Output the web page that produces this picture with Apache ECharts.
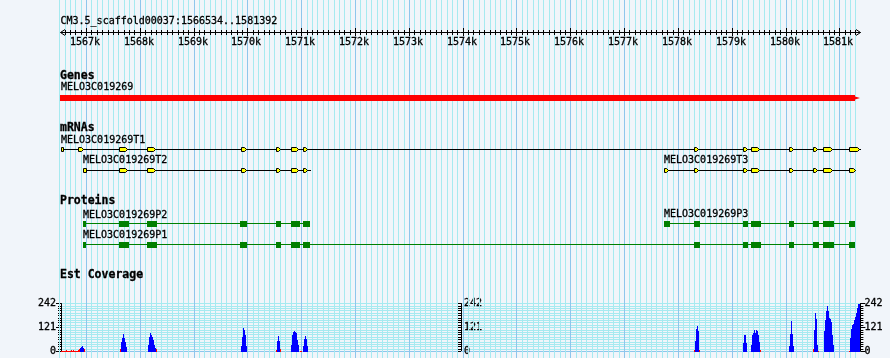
<!DOCTYPE html>
<html>
<head>
<meta charset="utf-8">
<script src="https://cdn.jsdelivr.net/npm/echarts@6/dist/echarts.min.js"></script>
<style>
html,body{margin:0;padding:0;background:#f1f5fa;}
#chart{width:890px;height:358px;}
</style>
</head>
<body>
<div id="chart"></div>
<script>
// ---------------- data ----------------
const VIEW_START = 1566534;
const VIEW_END = 1581392;
const REGION_TITLE = 'CM3.5_scaffold00037:1566534..1581392';
const RULER_POS = [1567000,1568000,1569000,1570000,1571000,1572000,1573000,1574000,1575000,1576000,1577000,1578000,1579000,1580000,1581000];
const RULER_LABELS = ['1567k','1568k','1569k','1570k','1571k','1572k','1573k','1574k','1575k','1576k','1577k','1578k','1579k','1580k','1581k'];
const TRACK_TITLES = ['Genes','mRNAs','Proteins','Est Coverage'];

const GENE_NAMES = ['MELO3C019269'];
const GENE_SPANS = [[1566534,1581392]];

const MRNA_NAMES = ['MELO3C019269T1','MELO3C019269T2','MELO3C019269T3'];
const MRNA_SPANS = [[1566534,1581392],[1566950,1571163],[1577748,1581286]];
const T1_EXONS = [[1566534,1566570],[1566857,1566950],[1567619,1567762],[1568139,1568282],[1569875,1569968],[1570537,1570605],[1570815,1570946],[1571033,1571113],[1578300,1578380],[1579210,1579279],[1579359,1579513],[1580071,1580134],[1580517,1580586],[1580697,1580859],[1581175,1581361]];
const T2_EXONS = [[1566950,1566994],[1567619,1567762],[1568139,1568282],[1569875,1569968],[1570537,1570605],[1570815,1570946],[1571033,1571113]];
const T3_EXONS = [[1577748,1577822],[1578300,1578380],[1579210,1579279],[1579359,1579513],[1580071,1580134],[1580517,1580586],[1580697,1580859],[1581175,1581286]];

const PROTEIN_NAMES = ['MELO3C019269P2','MELO3C019269P1','MELO3C019269P3'];
const PROTEIN_SPANS = [[1566944,1571163],[1566944,1581292],[1577742,1581292]];
const P2_CDS = [[1566944,1567000],[1567613,1567799],[1568134,1568320],[1569862,1569992],[1570531,1570624],[1570810,1570977],[1571033,1571163]];
const P1_CDS = [[1566944,1567000],[1567613,1567799],[1568134,1568320],[1569862,1569992],[1570531,1570624],[1570810,1570977],[1571033,1571163],[1578294,1578406],[1579210,1579309],[1579359,1579545],[1580065,1580164],[1580511,1580623],[1580697,1580902],[1581175,1581292]];
const P3_CDS = [[1577742,1577853],[1578294,1578406],[1579210,1579309],[1579359,1579545],[1580065,1580164],[1580511,1580623],[1580697,1580902],[1581175,1581292]];

const COV_MAX = 242;
const COV_TICK_STEP = 121;
const COV_BIN_BP = 18.585; // width of one coverage bin in bp; bins counted from VIEW_START
const EST_COV_BLUE = [[19,20],[20,25],[21,27],[22,20],
 [60,48],[61,68],[62,90],[63,68],[64,50],[65,23],
 [87,35],[88,72],[89,93],[90,85],[91,73],[92,60],[93,35],[94,18],
 [180,30],[181,72],[182,118],[183,108],[184,82],[185,30],
 [216,55],[217,78],[218,55],
 [230,35],[231,82],[232,100],[233,103],[234,97],[235,93],[236,57],[237,35],
 [242,30],[243,65],[244,80],[245,62],[246,30],
 [634,52],[635,115],[636,128],[637,102],
 [682,42],[683,83],[684,83],[685,42],
 [690,35],[691,85],[692,95],[693,107],[694,92],[695,107],[696,102],[697,85],[698,50],
 [728,30],[729,88],[730,153],[731,88],[732,30],
 [753,110],[754,195],[755,165],[756,32],
 [763,102],[764,160],[765,202],[766,227],[767,202],[768,168],[769,164],[770,148],[771,85],[772,35],
 [789,68],[790,115],[791,132],[792,138],[793,158],[794,172],[795,195],[796,219],[797,239],[798,242]];
const EST_COV_RED = [[0,5],[1,5],[2,5],[3,5],[4,5],[5,10],[6,5],[7,5],[8,5],[9,5],[10,10],[11,5],[12,10],[13,5],[14,5],[15,5],[16,5],[17,10],[18,15],[23,15],
 [59,15],[95,15],[215,10],[219,15],[239,5],[240,5],[633,10],[638,7],[699,10],[752,15],[757,5],[788,5]];

// ---------------- styling / layout ----------------
const FF = '"DejaVu Sans Mono", monospace';
const F_REG = '10px ' + FF;
const F_BOLD = 'bold 11.5px ' + FF;
const BG = '#f1f5fa';
const MINOR = '#a6eaf0';
const MAJOR = '#8ec6ec';
const GRID_LEFT = 61, GRID_RIGHT = 29.6;

const TITLE_Y = [76.4, 128, 201.2, 275.5];
const MRNA_ROW = [149, 170, 170];
const MRNA_LABEL_Y = [140, 160.8, 160.8];
const MRNA_EXONS = [T1_EXONS, T2_EXONS, T3_EXONS];
const PROT_ROW = [223, 244, 223];
const PROT_LABEL_Y = [215, 235.5, 214.5];
const PROT_CDS = [P2_CDS, P1_CDS, P3_CDS];

function txt(text, x, y, font, align) {
  align = align || 'left';
  return {type: 'text', silent: true, style: {text: text, x: x, y: y, font: font, fill: '#000',
    stroke: '#000', lineWidth: 0.3,
    align: align, verticalAlign: 'middle', textAlign: align, textVerticalAlign: 'middle'}};
}
function vline(x, y1, y2, color) {
  return {type: 'line', silent: true, shape: {x1: x, y1: y1, x2: x, y2: y2}, style: {stroke: color, lineWidth: 1}};
}
function hline(x1, x2, y, color) {
  return {type: 'line', silent: true, shape: {x1: x1, y1: y, x2: x2, y2: y}, style: {stroke: color, lineWidth: 1}};
}

// grid line positions every 100 bp across the view (axis decoration)
const GRID_POS = [];
for (let p = Math.ceil((VIEW_START - 50) / 100) * 100; p <= VIEW_END; p += 100) GRID_POS.push([p]);

const chart = echarts.init(document.getElementById('chart'), null, {renderer: 'canvas'});

function renderGrid(params, api) {
  const v = api.value(0);
  const x = Math.round(api.coord([v, 0])[0]) + 0.5;
  return vline(x, 0, 358, v % 1000 === 0 ? MAJOR : MINOR);
}

function renderRuler(params, api) {
  const X = v => api.coord([v, 0])[0];
  const xs = Math.round(X(VIEW_START)) - 0.5, xe = Math.round(X(VIEW_END)) + 0.5;
  const ch = [];
  ch.push(hline(xs, xe, 32.5, '#000'));
  ch.push({type: 'polyline', silent: true, shape: {points: [[xs + 4.5, 29.5], [xs, 32.5], [xs + 4.5, 35.5]]}, style: {stroke: '#000', fill: null, lineWidth: 1}});
  ch.push({type: 'polyline', silent: true, shape: {points: [[xe - 4.5, 29.5], [xe, 32.5], [xe - 4.5, 35.5]]}, style: {stroke: '#000', fill: null, lineWidth: 1}});
  for (let p = Math.ceil((VIEW_START + 1) / 100) * 100; p < VIEW_END; p += 100) {
    const x = Math.round(X(p)) + 0.5;
    if (p % 1000 === 0) ch.push(vline(x, 28, 36, '#000'));
    else ch.push(vline(x, 30, 35, '#000'));
  }
  RULER_POS.forEach((p, i) => ch.push(txt(RULER_LABELS[i], Math.round(X(p)) - 1, 42, F_REG, 'center')));
  ch.push(txt(REGION_TITLE, 60.5, 21, F_REG));
  TRACK_TITLES.forEach((t, i) => ch.push(txt(t, 60, TITLE_Y[i], F_BOLD)));
  return {type: 'group', children: ch};
}

function renderGene(params, api) {
  const xs = Math.round(api.coord([api.value(0), 0])[0]) - 1;
  const xe = Math.round(api.coord([api.value(1), 0])[0]);
  return {type: 'group', children: [
    {type: 'polygon', silent: true, shape: {points: [[xs, 95], [xe - 5, 95], [xe - 5, 96.5], [xe, 98], [xe - 5, 99.5], [xe - 5, 101], [xs, 101]]}, style: {fill: '#ff0000'}},
    txt(GENE_NAMES[params.dataIndex], 61, 87.7, F_REG)
  ]};
}

function renderMrna(params, api) {
  const i = params.dataIndex;
  const X = v => Math.round(api.coord([v, 0])[0]);
  const r = MRNA_ROW[i];
  const ch = [];
  ch.push(hline(X(api.value(0)) , X(api.value(1)) + 1, r + 0.5, '#000'));
  MRNA_EXONS[i].forEach(ex => {
    const L = X(ex[0]) + 0.5, R = X(ex[1]) + 0.5;
    const top = r - 1.5, bot = r + 2.5, mid = r + 0.5;
    let pts;
    if (R - L >= 4) pts = [[L, top], [R - 2, top], [R, mid], [R - 2, bot], [L, bot]];
    else pts = [[L, top], [R, top], [R, bot], [L, bot]];
    ch.push({type: 'polygon', silent: true, shape: {points: pts}, style: {fill: '#ffff00', stroke: '#000', lineWidth: 1}});
  });
  ch.push(txt(MRNA_NAMES[i], X(api.value(0)), MRNA_LABEL_Y[i], F_REG));
  return {type: 'group', children: ch};
}

function renderProtein(params, api) {
  const i = params.dataIndex;
  const X = v => Math.round(api.coord([v, 0])[0]);
  const r = PROT_ROW[i];
  const ch = [];
  ch.push(hline(X(api.value(0)), X(api.value(1)), r + 0.5, '#008000'));
  PROT_CDS[i].forEach(c => {
    const L = X(c[0]), R = X(c[1]);
    ch.push({type: 'rect', silent: true, shape: {x: L, y: r - 2, width: Math.max(2, R - L), height: 6}, style: {fill: '#008000'}});
  });
  ch.push(txt(PROTEIN_NAMES[i], X(api.value(0)), PROT_LABEL_Y[i], F_REG));
  return {type: 'group', children: ch};
}

function covRender(color) {
  return function (params, api) {
    const b = api.value(0), v = api.value(1);
    const s = VIEW_START + b * COV_BIN_BP, e = s + COV_BIN_BP;
    const p0 = api.coord([s, v]), p1 = api.coord([e, 0]);
    const x0 = Math.round(p0[0]), x1 = Math.round(p1[0]);
    const y0 = Math.round(p0[1]), y1 = Math.round(p1[1]);
    return {type: 'rect', silent: true, shape: {x: x0, y: y0, width: Math.max(1, x1 - x0), height: y1 - y0}, style: {fill: color}};
  };
}

const covAxisBase = {
  gridIndex: 1, type: 'value', min: 0, max: COV_MAX, interval: COV_TICK_STEP,
  axisLine: {show: true, lineStyle: {color: '#000', width: 1}},
  axisTick: {show: true, length: 5, lineStyle: {color: '#000'}},
  minorTick: {show: true, splitNumber: 10, length: 3, lineStyle: {color: '#000'}},
  axisLabel: {show: true, color: '#000', fontFamily: FF, fontSize: 10, textBorderColor: '#000', textBorderWidth: 0.3},
  splitLine: {show: false}, minorSplitLine: {show: false}
};

const option = {
  backgroundColor: BG,
  animation: false,
  grid: [
    {left: GRID_LEFT, right: GRID_RIGHT, top: 0, height: 358},
    {left: GRID_LEFT, right: GRID_RIGHT, top: 303.5, height: 48}
  ],
  xAxis: [
    {gridIndex: 0, type: 'value', min: VIEW_START, max: VIEW_END, show: false},
    {gridIndex: 1, type: 'value', min: VIEW_START, max: VIEW_END,
     axisLine: {show: true, onZero: false, lineStyle: {color: MAJOR}}, axisTick: {show: false}, axisLabel: {show: false}, splitLine: {show: false}}
  ],
  yAxis: [
    {gridIndex: 0, type: 'value', min: 0, max: 358, inverse: true, show: false},
    Object.assign({}, covAxisBase, {position: 'left',
      axisLabel: Object.assign({}, covAxisBase.axisLabel, {margin: 5}),
      splitLine: {show: true, lineStyle: {color: MINOR}}, minorSplitLine: {show: true, lineStyle: {color: MINOR}}}),
    Object.assign({}, covAxisBase, {position: 'right',
      axisLabel: Object.assign({}, covAxisBase.axisLabel, {margin: 4})}),
    Object.assign({}, covAxisBase, {position: 'left', offset: -400,
      axisTick: {show: true, length: 3, lineStyle: {color: '#000'}},
      axisLabel: Object.assign({}, covAxisBase.axisLabel, {inside: true, margin: 3})})
  ],
  series: [
    {type: 'custom', xAxisIndex: 0, yAxisIndex: 0, z: 1, data: GRID_POS, renderItem: renderGrid, silent: true},
    {type: 'custom', xAxisIndex: 0, yAxisIndex: 0, z: 3, data: [[VIEW_START, VIEW_END]], renderItem: renderRuler, silent: true},
    {type: 'custom', xAxisIndex: 0, yAxisIndex: 0, z: 3, data: GENE_SPANS, renderItem: renderGene, silent: true},
    {type: 'custom', xAxisIndex: 0, yAxisIndex: 0, z: 3, data: MRNA_SPANS, renderItem: renderMrna, silent: true},
    {type: 'custom', xAxisIndex: 0, yAxisIndex: 0, z: 3, data: PROTEIN_SPANS, renderItem: renderProtein, silent: true},
    {type: 'custom', xAxisIndex: 1, yAxisIndex: 1, z: 4, data: EST_COV_BLUE, renderItem: covRender('#0000ff'), silent: true},
    {type: 'custom', xAxisIndex: 1, yAxisIndex: 1, z: 4, data: EST_COV_RED, renderItem: covRender('#ff0000'), silent: true}
  ]
};
chart.setOption(option);
</script>
</body>
</html>
